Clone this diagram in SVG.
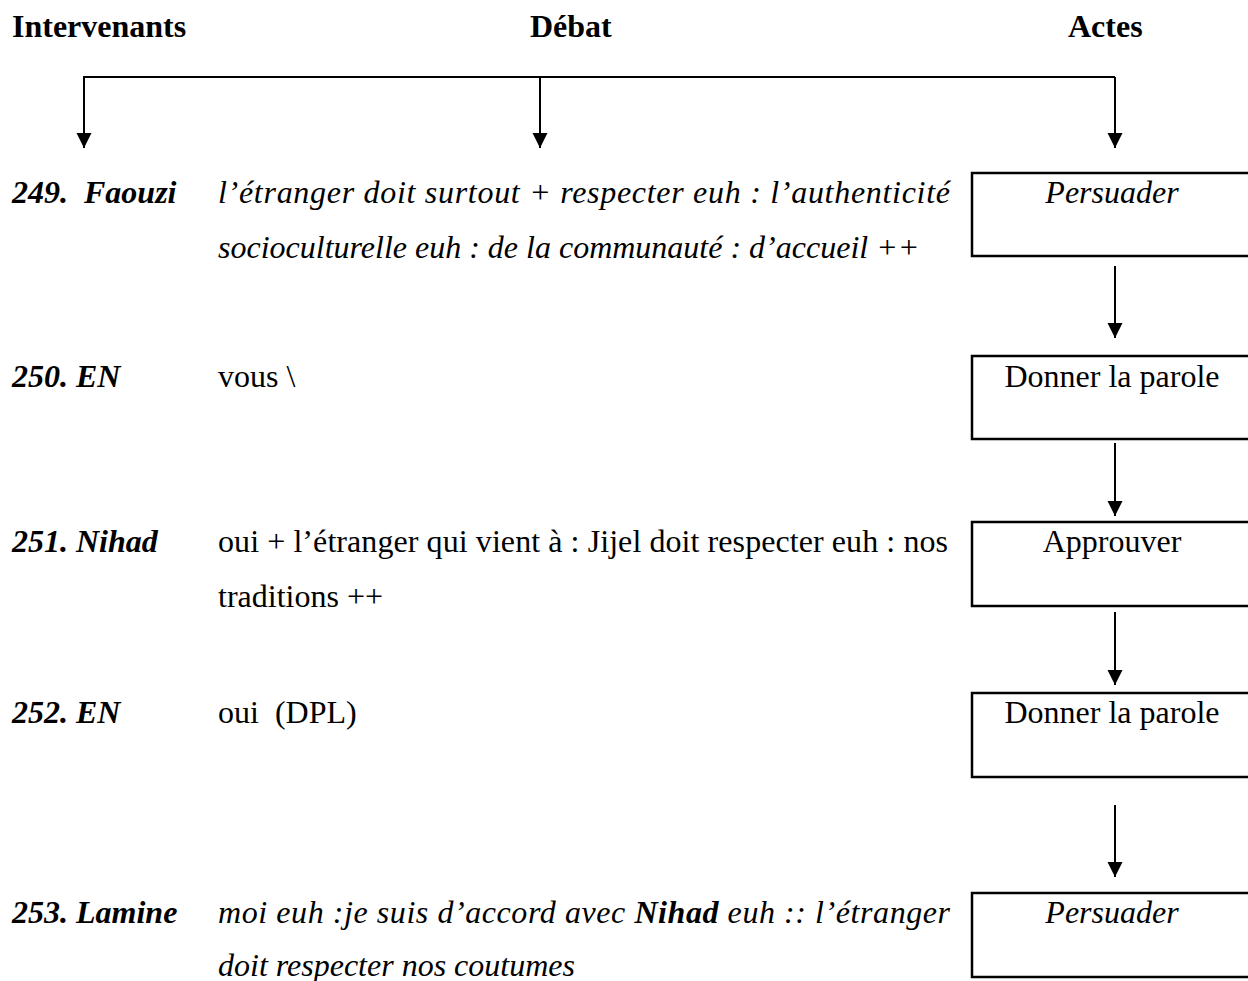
<svg xmlns="http://www.w3.org/2000/svg" width="1248" height="981" viewBox="0 0 1248 981">
  <defs>
    <marker id="arrow" markerUnits="userSpaceOnUse" markerWidth="16" markerHeight="16" refX="15" refY="8" orient="auto">
      <path d="M0,0.5 L15,8 L0,15.5 Z" fill="#000"/>
    </marker>
    <style>
      text { font-family: "Liberation Serif", "Times New Roman", serif; font-size: 32px; fill: #000; }
      .hdr { font-weight: bold; }
      .spk { font-weight: bold; font-style: italic; }
      .it { font-style: italic; }
      .b { font-weight: bold; }
      .box rect { fill: #fff; stroke: #000; stroke-width: 2.5; }
      .box text { text-anchor: middle; }
      .conn line, .conn polyline { stroke: #000; stroke-width: 2; fill: none; }
    </style>
  </defs>
  <rect width="1248" height="981" fill="#fff"/>

  <!-- column headers -->
  <g id="headers">
    <text class="hdr" x="12" y="37">Intervenants</text>
    <text class="hdr" x="530" y="37">Débat</text>
    <text class="hdr" x="1068" y="37">Actes</text>
  </g>

  <!-- connectors -->
  <g class="conn" id="connectors">
    <polyline points="84,148 84,77 1115,77"/>
    <line x1="84" y1="77" x2="84" y2="148" marker-end="url(#arrow)"/>
    <line x1="540" y1="77" x2="540" y2="148" marker-end="url(#arrow)"/>
    <line x1="1115" y1="77" x2="1115" y2="148" marker-end="url(#arrow)"/>
    <line x1="1115" y1="266" x2="1115" y2="338" marker-end="url(#arrow)"/>
    <line x1="1115" y1="443" x2="1115" y2="516" marker-end="url(#arrow)"/>
    <line x1="1115" y1="612" x2="1115" y2="685" marker-end="url(#arrow)"/>
    <line x1="1115" y1="805" x2="1115" y2="877" marker-end="url(#arrow)"/>
  </g>

  <!-- turn 249 -->
  <g id="turn249">
    <text class="spk" x="12" y="203" xml:space="preserve">249.  Faouzi</text>
    <text class="it" x="218" y="203" textLength="732" lengthAdjust="spacing">l’étranger doit surtout + respecter euh : l’authenticité</text>
    <text class="it" x="218" y="258">socioculturelle euh : de la communauté : d’accueil ++</text>
  </g>
  <g id="act249" class="box">
    <rect x="972" y="173" width="300" height="83"/>
    <text class="it" x="1112" y="203">Persuader</text>
  </g>

  <!-- turn 250 -->
  <g id="turn250">
    <text class="spk" x="12" y="387">250. EN</text>
    <text x="218" y="387">vous \</text>
  </g>
  <g id="act250" class="box">
    <rect x="972" y="356" width="300" height="83"/>
    <text x="1112" y="387">Donner la parole</text>
  </g>

  <!-- turn 251 -->
  <g id="turn251">
    <text class="spk" x="12" y="552">251. Nihad</text>
    <text x="218" y="552" textLength="730" lengthAdjust="spacing">oui + l’étranger qui vient à : Jijel doit respecter euh : nos</text>
    <text x="218" y="607">traditions ++</text>
  </g>
  <g id="act251" class="box">
    <rect x="972" y="522" width="300" height="84"/>
    <text x="1112" y="552">Approuver</text>
  </g>

  <!-- turn 252 -->
  <g id="turn252">
    <text class="spk" x="12" y="723">252. EN</text>
    <text x="218" y="723" xml:space="preserve">oui  (DPL)</text>
  </g>
  <g id="act252" class="box">
    <rect x="972" y="693" width="300" height="84"/>
    <text x="1112" y="723">Donner la parole</text>
  </g>

  <!-- turn 253 -->
  <g id="turn253">
    <text class="spk" x="12" y="923">253. Lamine</text>
    <text class="it" x="218" y="923" textLength="732" lengthAdjust="spacing">moi euh :je suis d’accord avec <tspan class="b">Nihad</tspan> euh :: l’étranger</text>
    <text class="it" x="218" y="976">doit respecter nos coutumes</text>
  </g>
  <g id="act253" class="box">
    <rect x="972" y="893" width="300" height="84"/>
    <text class="it" x="1112" y="923">Persuader</text>
  </g>
</svg>
